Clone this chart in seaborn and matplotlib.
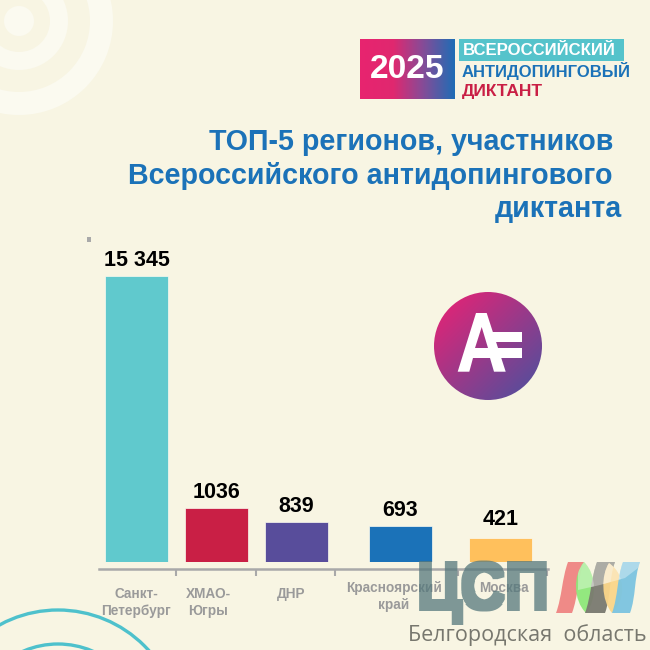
import numpy as np
import matplotlib
matplotlib.use("Agg")
import matplotlib.pyplot as plt
import seaborn as sns
from matplotlib.colors import LinearSegmentedColormap, to_rgb
from matplotlib.patches import Circle, Polygon, PathPatch, Rectangle, Wedge
from matplotlib.path import Path

# Data
regions = ["Санкт-\nПетербург", "ХМАО-\nЮгры", "ДНР", "Красноярский\nкрай", "Москва"]
values = [15345, 1036, 839, 693, 421]
value_labels = ["15 345", "1036", "839", "693", "421"]
bar_colors = ["#60C9CD", "#C91F45", "#584D9B", "#1B72B8", "#FFC05C"]

# the bars in the original are not proportional, so the y axis is a bent scale
scale_values = [0, 421, 693, 839, 1036, 15345]
scale_heights = [0, 24, 36, 40, 54, 286]

BG = "#F8F5E3"
GRAY = "#A9A9A9"
BLUE = "#1B72B8"
MARK = "#55787C"

sns.set_theme(style="white")
plt.rcParams["font.family"] = ["Liberation Sans", "DejaVu Sans"]

fig = plt.figure(figsize=(6.5, 6.5), dpi=100, facecolor=BG)

# Chart
ax = fig.add_axes([99 / 650, (650 - 562) / 650, (548 - 99) / 650, 286 / 650], zorder=1)
ax.patch.set_visible(False)


def px_x(p):
    return (p - 136.5) / 80


sns.barplot(x=regions, y=values, hue=regions, palette=bar_colors, dodge=False, saturation=1,
            width=63 / 80, legend=False, edgecolor="#FBFAF0", linewidth=0.5, ax=ax)

ax.set_yscale("function", functions=(
    lambda v: np.interp(v, scale_values, scale_heights),
    lambda h: np.interp(h, scale_heights, scale_values),
))
ax.set_ylim(0, 15345)
ax.set_yticks([])
ax.minorticks_off()

# the last two bars sit further right than the even category step
bar_shift = [0, 0, 0, 0.3, 0.55]
label_pad = [3.5, 3.5, 3.5, 3.5, 6]
for cont, shift, lab, pad in zip(ax.containers, bar_shift, value_labels, label_pad):
    for bar in cont:
        bar.set_x(bar.get_x() + shift)
    ax.bar_label(cont, labels=[lab], padding=pad, fontsize=15.5, fontweight="bold", color="black")

# set_position resets the ticks, so it goes before the tick styling
for side in ["left", "top", "right"]:
    ax.spines[side].set_visible(False)
ax.spines["bottom"].set_position(("outward", 5))
ax.spines["bottom"].set_color(GRAY)
ax.spines["bottom"].set_linewidth(1.8)

ax.set_xlim(px_x(99), px_x(548))
ax.set_xticks([px_x(p) for p in [136, 208, 291, 394, 504]])
ax.set_xticklabels(regions)
ax.set_xticks([px_x(p) for p in [176, 256, 335, 458, 547]], minor=True)
ax.tick_params(axis="x", which="major", length=0, pad=13.3)
ax.tick_params(axis="x", which="minor", length=5, width=1.5, color=GRAY, bottom=True)
ticks = ax.xaxis.get_major_ticks()
ticks[3].set_pad(9)
ticks[4].set_pad(9)
for tick in ax.get_xticklabels():
    tick.set(fontsize=9.8, fontweight="bold", color="#9A9A9A", linespacing=1.25)

# Decoration layer in pixel coordinates
deco = fig.add_axes([0, 0, 1, 1], zorder=0)
top = fig.add_axes([0, 0, 1, 1], zorder=2)
for a in [deco, top]:
    a.patch.set_visible(False)
    a.axis("off")

# rings top left
ring = "#FBFAF0"
deco.add_patch(Circle((19, 21), 15, color=ring, lw=0))
deco.add_patch(Wedge((19, 21), 49, 0, 360, width=18, color=ring, lw=0))
deco.add_patch(Wedge((19, 21), 94, 0, 360, width=23, color=ring, lw=0))
# arcs bottom left
deco.add_patch(Circle((58, 732), 122, fill=False, ec="#4EC1CC", lw=2.4))
deco.add_patch(Circle((58, 732), 88, fill=False, ec="#4EC1CC", lw=2.4))
deco.add_patch(Rectangle((87, 237), 4, 5, color=GRAY, lw=0))

# header gradient box
head_cmap = LinearSegmentedColormap.from_list(
    "head", [(0, "#E8246F"), (0.35, "#E0286F"), (0.65, "#8A4A96"), (1, "#1F6DB5")])
top.imshow(np.linspace(0, 1, 200).reshape(1, -1), cmap=head_cmap, extent=(360, 455, 99, 39),
           aspect="auto", interpolation="bilinear")
top.text(407, 69.5, "2025", color="white", fontsize=24, fontweight="bold", ha="center", va="center")
top.add_patch(Rectangle((459, 39), 165, 22, color="#55C3CB", lw=0))
top.text(463, 50.5, "ВСЕРОССИЙСКИЙ", color="white", fontsize=12.1, fontweight="bold", va="center")
top.text(462, 71.5, "АНТИДОПИНГОВЫЙ", color=BLUE, fontsize=12, fontweight="bold", va="center")
top.text(462, 91.5, "ДИКТАНТ", color="#C91F45", fontsize=12.5, fontweight="bold", va="center")

# title
top.text(613, 142, "ТОП-5 регионов, участников", color=BLUE, fontsize=20.6, fontweight="bold", ha="right", va="center")
top.text(613, 176, "Всероссийского антидопингового", color=BLUE, fontsize=20.6, fontweight="bold", ha="right", va="center")
top.text(622, 209, "диктанта", color=BLUE, fontsize=20.6, fontweight="bold", ha="right", va="center")

# round logo
xx, yy = np.meshgrid(np.linspace(0, 1, 120), np.linspace(0, 1, 120))
disc_cmap = LinearSegmentedColormap.from_list("disc", ["#DE2577", "#584D9B"])
im = top.imshow((xx + yy) / 2, cmap=disc_cmap, extent=(434, 542, 400, 292),
                aspect="auto", interpolation="bilinear", vmin=0.1, vmax=0.9)
clip = Circle((488, 346), 54, transform=top.transData)
im.set_clip_path(clip)
a_outer = [(476, 313), (486.7, 313), (505.7, 371.7), (494, 371.7), (490, 358), (473, 358),
           (469.3, 371.7), (457.7, 371.7), (476, 313)]
a_hole = [(481.7, 327), (475, 348), (488, 348), (481.7, 327)]
a_verts = a_outer + a_hole
a_codes = [Path.MOVETO] + [Path.LINETO] * 7 + [Path.CLOSEPOLY] + [Path.MOVETO] + [Path.LINETO] * 2 + [Path.CLOSEPOLY]
top.add_patch(PathPatch(Path(a_verts, a_codes), fc="white", lw=0))
top.add_patch(Polygon([(491, 332), (521.7, 332), (521.7, 341.7), (494, 341.7)], fc="white", lw=0))
top.add_patch(Polygon([(486, 348), (521.7, 348), (521.7, 358), (486, 358)], fc="white", lw=0))


def fatten(img, dpi):
    # heavier, taller letters for the ЦСП mark; no such font is installed
    img = np.pad(img, ((4, 4), (4, 4), (0, 0)))
    alpha = img[..., 3].copy()
    for dx in range(-2, 3):
        for dy in range(-2, 3):
            alpha = np.maximum(alpha, np.roll(np.roll(img[..., 3], dx, 1), dy, 0))
    out = np.zeros_like(img)
    out[..., :3] = to_rgb(MARK)
    out[..., 3] = alpha
    rows = np.linspace(0, out.shape[0] - 1, int(out.shape[0] * 1.1)).astype(int)
    return out[rows], -4, -4


# watermark bottom right
wm = top.text(417, 610, "ЦСП", family=["Liberation Sans Narrow", "Liberation Sans"], fontweight="bold",
              fontsize=44, color=MARK, alpha=0.75, va="baseline", ha="left")
wm.set_agg_filter(fatten)
top.text(408, 641, "Белгородская  область", color="#77776E", fontsize=15.5, family="Open Sans", va="baseline")


def ribbon(tl, tr, bl, br, bend, color):
    # S-shaped band from the top edge to the bottom edge
    verts = [tl, (tl[0] - bend - 4, 578), (bl[0] + bend + 4, 597), bl, br,
             (br[0] + bend + 4, 597), (tr[0] - bend - 4, 578), tr, tl]
    codes = [Path.MOVETO, Path.CURVE4, Path.CURVE4, Path.CURVE4, Path.LINETO,
             Path.CURVE4, Path.CURVE4, Path.CURVE4, Path.CLOSEPOLY]
    return PathPatch(Path(verts, codes), fc=color, lw=0, alpha=0.95)


def lens(t, b, left, right, color):
    verts = [t, (left, 575), (left, 600), b, (right, 600), (right, 575), t]
    codes = [Path.MOVETO, Path.CURVE4, Path.CURVE4, Path.CURVE4, Path.CURVE4, Path.CURVE4, Path.CURVE4]
    return PathPatch(Path(verts, codes), fc=color, lw=0, alpha=0.95)


shapes = [
    ribbon((568, 562), (584, 562), (556, 613), (572, 613), 2, "#EF8482"),
    lens((584, 562), (586, 613), 573, 597, "#8EE87A"),
    ribbon((597, 562), (615, 562), (585, 613), (605, 613), 2, "#7A7A70"),
    lens((609, 563), (612, 613), 601, 626, "#FBD68A"),
    ribbon((623, 562), (640, 562), (612, 613), (630, 613), 2, "#7CC4E0"),
]
glow = Polygon([(578, 560), (642, 560), (642, 565), (625, 578), (600, 585), (578, 590)],
               transform=top.transData)
for s in shapes:
    top.add_patch(s)
for s in shapes[1:]:
    g = PathPatch(s.get_path(), fc="white", lw=0, alpha=0.35)
    top.add_patch(g)
    g.set_clip_path(glow)

for a in [deco, top]:
    a.set_xlim(0, 650)
    a.set_ylim(650, 0)

fig.savefig("out.png", dpi=100, facecolor=BG)
